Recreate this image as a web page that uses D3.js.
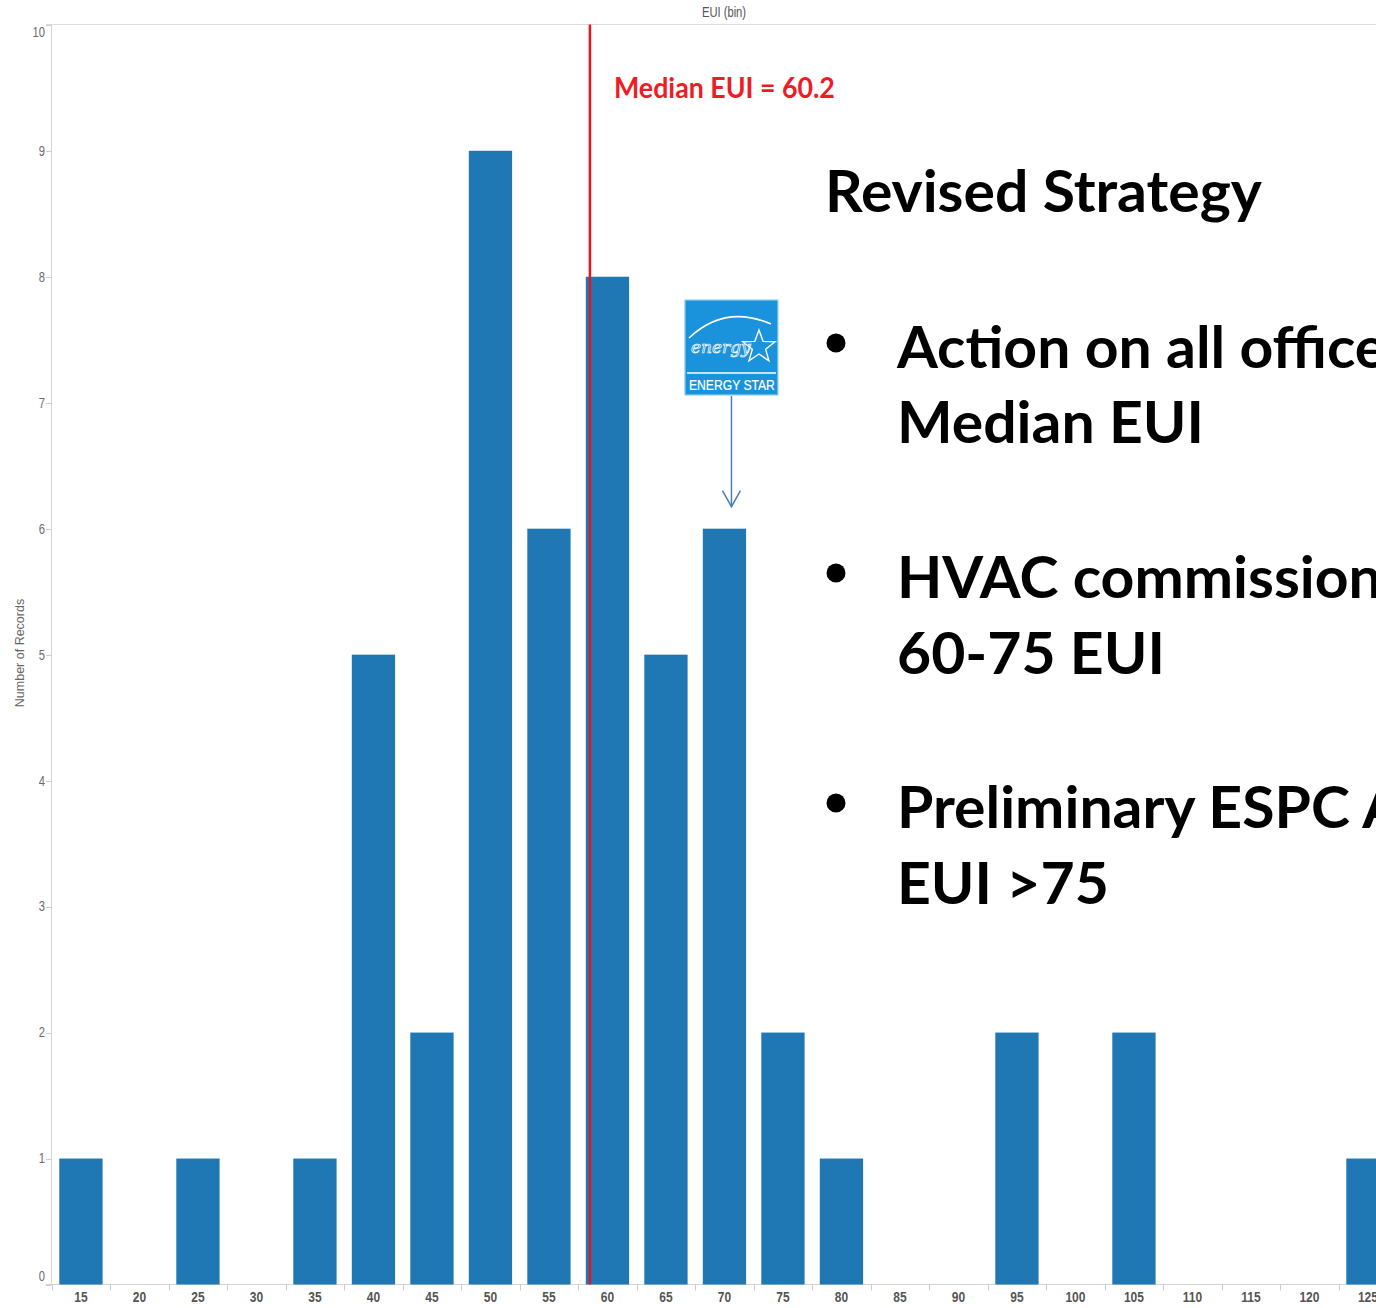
<!DOCTYPE html>
<html>
<head>
<meta charset="utf-8">
<script src="https://cdn.jsdelivr.net/npm/d3@7"></script>
<style>
  html, body { margin: 0; padding: 0; background: #fff; }
  svg { display: block; }
</style>
</head>
<body>
<svg id="chart" width="1376" height="1308"></svg>
<script>
// ---------- DATA ----------
const bins = [15, 20, 25, 30, 35, 40, 45, 50, 55, 60, 65, 70, 75, 80, 85, 90, 95, 100, 105, 110, 115, 120, 125];
const counts = [1, 0, 1, 0, 1, 5, 2, 9, 6, 8, 5, 6, 2, 1, 0, 0, 2, 0, 2, 0, 0, 0, 1];
const yTicks = [0, 1, 2, 3, 4, 5, 6, 7, 8, 9, 10];
const xTitle = "EUI (bin)";
const yTitle = "Number of Records";
const medianLabel = "Median EUI = 60.2";
const medianLineAt = 61.0;      // where the annotation line is drawn, in EUI units
const energyStarBin = 70;        // bin pointed at by the ENERGY STAR arrow
const heading = "Revised Strategy";
const bullets = [
  ["Action on all offices <", "Median EUI"],
  ["HVAC commissioning", "60-75 EUI"],
  ["Preliminary ESPC Audit", "EUI >75"]
];

// ---------- LAYOUT ----------
const svg = d3.select("#chart");
const W = 1376, H = 1308;
const plotLeft = 51.7, plotTop = 24.8, plotBottom = 1284.5;
const step = 58.5;

const x = d3.scaleBand()
  .domain(bins)
  .range([plotLeft, plotLeft + step * bins.length])
  .paddingInner(0.26)
  .paddingOuter(0.13);
const y = d3.scaleLinear().domain([0, 10]).range([plotBottom, plotTop]);
// continuous EUI scale on bin edges for annotations
const xEdge = d3.scaleLinear()
  .domain([bins[0], bins[bins.length - 1] + 5])
  .range([plotLeft, plotLeft + step * bins.length]);

const smallFont = "'Liberation Sans', Arial, sans-serif";
const bigFont = "Lato, 'Open Sans', sans-serif";
const narrow = 0.8;

// frame lines
svg.append("line").attr("x1", 46).attr("x2", W).attr("y1", 24.5).attr("y2", 24.5)
  .attr("stroke", "#dcdcdc").attr("stroke-width", 1);
svg.append("line").attr("x1", 51.5).attr("x2", 51.5).attr("y1", 24.5).attr("y2", plotBottom)
  .attr("stroke", "#d4d4d4").attr("stroke-width", 1);
svg.append("line").attr("x1", 46).attr("x2", W).attr("y1", plotBottom).attr("y2", plotBottom)
  .attr("stroke", "#d4d4d4").attr("stroke-width", 1);

// y ticks
const yt = svg.append("g");
yt.selectAll("line").data(yTicks).join("line")
  .attr("x1", 46).attr("x2", 51.5)
  .attr("y1", d => Math.round(y(d)) + 0.5).attr("y2", d => Math.round(y(d)) + 0.5)
  .attr("stroke", "#cccccc");
yt.selectAll("text").data(yTicks).join("text")
  .attr("transform", d => `translate(45,${y(d) + (d === 10 ? 7.5 : d === 0 ? -8 : 0)}) scale(${narrow},1)`)
  .attr("dy", "0.35em")
  .attr("text-anchor", "end")
  .attr("font-family", smallFont)
  .attr("font-size", 14)
  .attr("fill", "#6a6a6a")
  .text(d => d);

// x ticks between bands
const xt = svg.append("g");
xt.selectAll("line").data(bins).join("line")
  .attr("x1", d => Math.round(x(d) - x.step() * 0.13) + 0.5)
  .attr("x2", d => Math.round(x(d) - x.step() * 0.13) + 0.5)
  .attr("y1", plotBottom).attr("y2", plotBottom + 6)
  .attr("stroke", "#cccccc");
xt.selectAll("text").data(bins).join("text")
  .attr("transform", d => `translate(${x(d) + x.bandwidth() / 2},1297) scale(${narrow},1)`)
  .attr("dy", "0.35em")
  .attr("text-anchor", "middle")
  .attr("font-family", smallFont)
  .attr("font-weight", "bold")
  .attr("font-size", 15)
  .attr("fill", "#555")
  .text(d => d);

// titles
svg.append("text").attr("transform", `translate(724,12) scale(${narrow},1)`).attr("dy", "0.35em")
  .attr("text-anchor", "middle").attr("font-family", smallFont)
  .attr("font-size", 14).attr("fill", "#555").text(xTitle);
svg.append("text").attr("transform", "translate(20,653) rotate(-90)")
  .attr("dy", "0.35em").attr("text-anchor", "middle").attr("font-family", smallFont)
  .attr("font-size", 12.5).attr("fill", "#666").text(yTitle);

// bars
svg.append("g").selectAll("rect").data(bins.map((b, i) => ({ b, v: counts[i] })).filter(d => d.v > 0))
  .join("rect")
  .attr("x", d => x(d.b))
  .attr("width", x.bandwidth())
  .attr("y", d => y(d.v))
  .attr("height", d => y(0) - y(d.v))
  .attr("fill", "#1f77b4");

// median line
const mx = xEdge(medianLineAt);
svg.append("line").attr("x1", mx).attr("x2", mx).attr("y1", 24.5).attr("y2", plotBottom)
  .attr("stroke", "#e8141f").attr("stroke-width", 2.5);

function fitText(sel, targetWidth) {
  const w = sel.node().getComputedTextLength();
  return targetWidth / w;
}

const ml = svg.append("text")
  .attr("font-family", bigFont).attr("font-weight", 700).attr("font-size", 28)
  .attr("fill", "#ee1c25").text(medianLabel);
const ms = fitText(ml, 221);
ml.attr("transform", `translate(614,98) scale(${ms},1)`);

// ENERGY STAR logo
const lx = x(energyStarBin) + x.bandwidth() / 2;
const logoCx = lx + 7;
const logo = svg.append("g").attr("transform", `translate(${logoCx - 46.5},300)`);
logo.append("rect").attr("x", 0).attr("y", 0).attr("width", 93).attr("height", 95)
  .attr("fill", "#1b93dc").attr("stroke", "#8fd0f3").attr("stroke-width", 1.2);
logo.append("path").attr("d", "M4,38 Q40,4 86,24").attr("fill", "none")
  .attr("stroke", "#fff").attr("stroke-width", 1.6);
logo.append("text").attr("x", 6).attr("y", 53).attr("font-family", "'DejaVu Serif', serif")
  .attr("font-style", "italic").attr("font-size", 17).attr("fill", "none")
  .attr("stroke", "#fff").attr("stroke-width", 0.7).text("energy");
const starPts = d3.range(10).map(i => {
  const r = i % 2 === 0 ? 17 : 7;
  const a = -Math.PI / 2 + i * Math.PI / 5;
  return [74 + r * Math.cos(a), 47 + r * Math.sin(a)];
});
logo.append("polygon").attr("points", starPts.map(p => p.join(",")).join(" "))
  .attr("fill", "none").attr("stroke", "#fff").attr("stroke-width", 1.4);
logo.append("line").attr("x1", 2).attr("x2", 91).attr("y1", 73).attr("y2", 73)
  .attr("stroke", "#fff").attr("stroke-width", 1.6);
const es = logo.append("text").attr("font-family", smallFont).attr("font-size", 15)
  .attr("fill", "#fff").attr("stroke", "#fff").attr("stroke-width", 0.2).text("ENERGY STAR");
const ess = fitText(es, 86);
es.attr("transform", `translate(4,90) scale(${ess},1)`);

// arrow
const arrowTop = 396, arrowTip = y(counts[bins.indexOf(energyStarBin)]) - 22;
svg.append("line").attr("x1", logoCx).attr("x2", logoCx).attr("y1", arrowTop).attr("y2", arrowTip)
  .attr("stroke", "#4a7ebb").attr("stroke-width", 1.5);
svg.append("path")
  .attr("d", `M${logoCx - 9},${arrowTip - 16} L${logoCx},${arrowTip} L${logoCx + 9},${arrowTip - 16}`)
  .attr("fill", "none").attr("stroke", "#4a7ebb").attr("stroke-width", 1.5);

// right-hand text
const head = svg.append("text").attr("font-family", bigFont).attr("font-weight", 700)
  .attr("font-size", 57).attr("fill", "#000").text(heading);
const hs = fitText(head, 437);
head.attr("transform", `translate(825,212) scale(${hs},1)`);

const lineBase = [[368, 443], [598, 674], [828, 904]];
bullets.forEach((b, i) => {
  svg.append("circle").attr("cx", 836).attr("cy", lineBase[i][0] - 25).attr("r", 9.5).attr("fill", "#000");
  b.forEach((t, j) => {
    svg.append("text").attr("font-family", bigFont).attr("font-weight", 700)
      .attr("font-size", 57).attr("fill", "#000")
      .attr("transform", `translate(897,${lineBase[i][j]}) scale(${hs},1)`)
      .text(t);
  });
});
</script>
</body>
</html>
